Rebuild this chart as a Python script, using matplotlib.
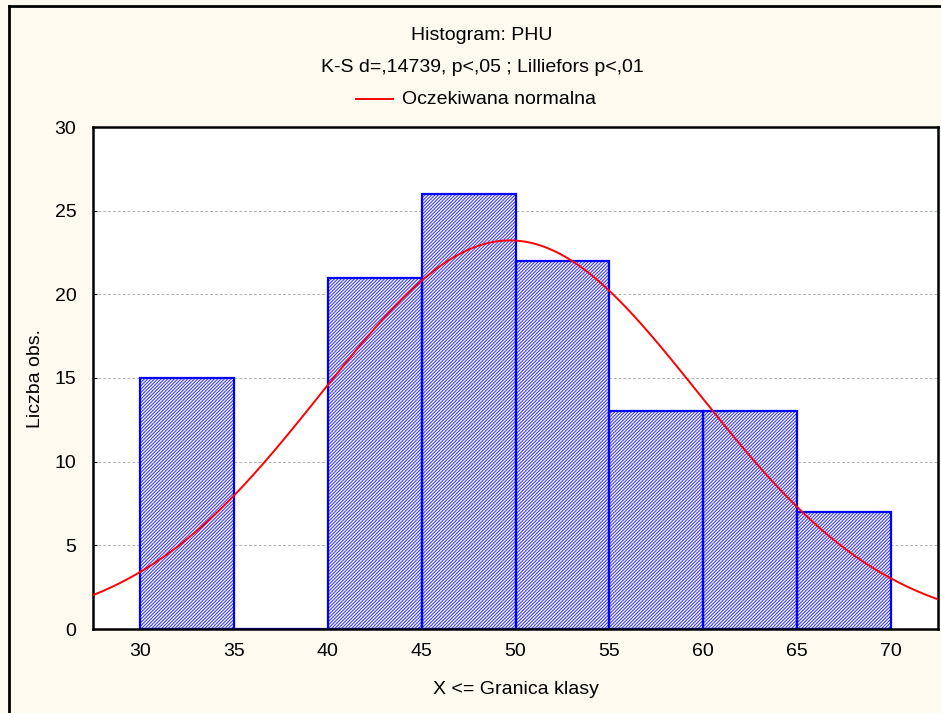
import numpy as np
import matplotlib
matplotlib.use("Agg")
import matplotlib.pyplot as plt
from matplotlib.lines import Line2D

# --------------------------------------------------------------------
# Data
# --------------------------------------------------------------------
bin_left = [30, 35, 40, 45, 50, 55, 60, 65]
counts = [15, 0, 21, 26, 22, 13, 13, 7]
bin_width = 5
x_ticks = [30, 35, 40, 45, 50, 55, 60, 65, 70]
y_ticks = [0, 5, 10, 15, 20, 25, 30]

# fitted normal (mean / sd of the sample)
mean_val = 49.7
sd_val = 10.05

plt.rcParams["font.family"] = ["Liberation Sans", "DejaVu Sans"]
plt.rcParams["hatch.linewidth"] = 0.8

BG = "#fefaf0"
W, H = 941, 713
FS = 14

fig = plt.figure(figsize=(W / 100, H / 100), dpi=100, facecolor=BG)
ax = fig.add_axes([93 / W, 1 - 629 / H, (938 - 93) / W, (629 - 127) / H])
ax.set_facecolor("white")

# hatched fill, then the solid blue outline on top
ax.bar(bin_left, counts, width=bin_width, align="edge", color="white",
       edgecolor="#3c3cff", linewidth=0, hatch="//////////", zorder=2)
ax.bar(bin_left, counts, width=bin_width, align="edge", fill=False,
       edgecolor="#0000ff", linewidth=1.6, zorder=2)

# expected normal curve
n_total = sum(counts)
xs = np.linspace(27.5, 72.5, 400)
ys = n_total * bin_width / (sd_val * np.sqrt(2 * np.pi)) * np.exp(-0.5 * ((xs - mean_val) / sd_val) ** 2)
ax.plot(xs, ys, color="red", linewidth=1.4, zorder=3)

ax.set_xlim(27.5, 72.5)
ax.set_ylim(0, 30)
ax.set_xticks(x_ticks)
ax.set_yticks(y_ticks)
ax.yaxis.grid(True, linestyle=(0, (3, 2)), color="#b0b0b0", linewidth=0.7, zorder=0)
ax.set_axisbelow(True)
ax.tick_params(axis="x", length=0, labelsize=FS, pad=10)
ax.tick_params(axis="y", direction="in", length=3, labelsize=FS, pad=12)
for sp in ax.spines.values():
    sp.set_linewidth(1.8)
    sp.set_color("black")

ax.set_xlabel("X <= Granica klasy", fontsize=FS, va="center")
ax.xaxis.set_label_coords(0.5, -(690 - 629) / 502)
ax.set_ylabel("Liczba obs.", fontsize=FS, va="center")
ax.yaxis.set_label_coords(-(93 - 35) / 845, 0.5)

# titles and legend
fig.text(482 / W, 1 - 36 / H, "Histogram: PHU", ha="center", va="center", fontsize=FS)
fig.text(482 / W, 1 - 68 / H, "K-S d=,14739, p<,05 ; Lilliefors p<,01",
         ha="center", va="center", fontsize=FS)
fig.add_artist(Line2D([356 / W, 393 / W], [1 - 99 / H, 1 - 99 / H], color="red", linewidth=1.4))
fig.text(402 / W, 1 - 99 / H, "Oczekiwana normalna", ha="left", va="center", fontsize=FS)

# outer frame (left and top edges visible)
fig.add_artist(Line2D([9 / W, 9 / W], [0, 1 - 6 / H], color="black", linewidth=2))
fig.add_artist(Line2D([9 / W, 1], [1 - 6 / H, 1 - 6 / H], color="black", linewidth=2))

fig.savefig("out.png", dpi=100, facecolor=BG)
